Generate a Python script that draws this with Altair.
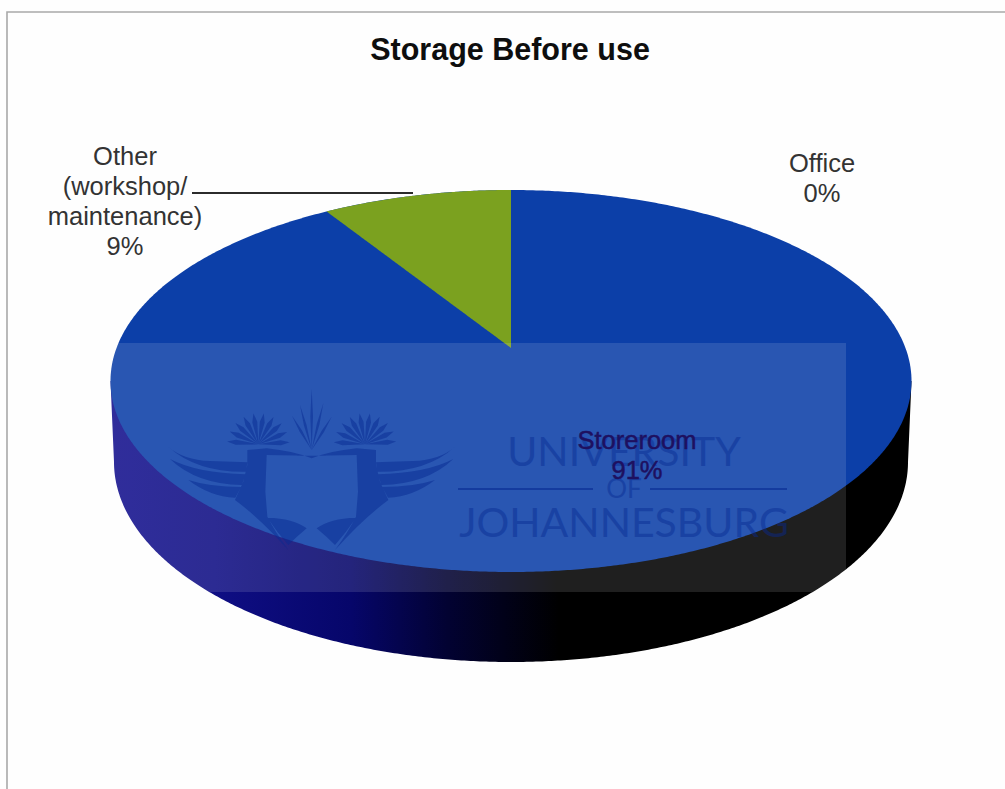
import math

import altair as alt

# Shares of each storage location, in percent
categories = ["Storeroom", "Other (workshop/ maintenance)", "Office"]
shares = [91, 9, 0]
title_text = "Storage Before use"
label_lines = {
    "Storeroom": ["Storeroom", "91%"],
    "Other": ["Other", "(workshop/", "maintenance)", "9%"],
    "Office": ["Office", "0%"],
}

W, H = 1005, 789

# Geometry of the tilted disc on the canvas
CX, CY, RX, RY = 511.0, 381.0, 400.5, 191.0
BOTTOM_CY, BOTTOM_RX, BOTTOM_RY = 462.0, 397.0, 200.0
HUB_Y = 348.0
TILT = (CY - HUB_Y) / RY


def project(theta):
    """Perspective image of a rim point, theta clockwise from the far side."""
    u, v = math.sin(theta), math.cos(theta)
    den = 1 + TILT * v
    return (
        CX + RX * u * math.sqrt(1 - TILT ** 2) / den,
        CY - RY * (v + TILT) / den,
    )


def disc_rows(n=400):
    rows = []
    for i in range(n + 1):
        t = math.pi * i / n
        s = math.sin(t)
        rows.append({"x": CX - RX * math.cos(t), "y": CY - RY * s, "y2": CY + RY * s})
    return rows


def side_rows(n=400):
    rows = [{"x": CX - RX, "y": CY, "y2": CY}]
    for i in range(n + 1):
        t = math.pi * i / n
        rows.append(
            {
                "x": CX - BOTTOM_RX * math.cos(t),
                "y": CY,
                "y2": BOTTOM_CY + BOTTOM_RY * math.sin(t),
            }
        )
    rows.append({"x": CX + RX, "y": CY, "y2": CY})
    return rows


def wedge_rows(share, n=120):
    # The wedge runs anticlockwise from twelve o'clock
    rim_x, rim_y = project(-2 * math.pi * share / 100)
    rows = []
    for i in range(n + 1):
        x = rim_x + (CX - rim_x) * i / n
        top = CY - RY * math.sqrt(1 - ((x - CX) / RX) ** 2)
        low = rim_y + (HUB_Y - rim_y) * i / n
        rows.append({"x": x, "y": top, "y2": low})
    return rows


x_scale = alt.Scale(domain=[0, W], range=[0, W], nice=False, zero=False)
y_scale = alt.Scale(domain=[0, H], range=[0, H], nice=False, zero=False)
X = alt.X("x:Q", scale=x_scale, axis=None)
Y = alt.Y("y:Q", scale=y_scale, axis=None)
Y2 = alt.Y2("y2:Q")


def table(rows):
    return alt.Chart(alt.Data(values=rows))


side_fill = alt.Gradient(
    gradient="linear",
    x1=0, x2=1, y1=0, y2=0,
    stops=[
        alt.GradientStop(offset=0.0, color="#14108e"),
        alt.GradientStop(offset=0.13, color="#0f0e84"),
        alt.GradientStop(offset=0.30, color="#06066a"),
        alt.GradientStop(offset=0.42, color="#020232"),
        alt.GradientStop(offset=0.56, color="#000000"),
        alt.GradientStop(offset=1.0, color="#000000"),
    ],
)

frame = table([{"x": 7, "x2": 1060, "y": 12, "y2": 1000}]).mark_rect(
    fill="#fefefe", stroke="#a9a9a9", strokeWidth=1.6, clip=True
).encode(x=X, x2="x2:Q", y=Y, y2=Y2)

side = table(side_rows()).mark_area(color=side_fill).encode(x=X, y=Y, y2=Y2)
disc = table(disc_rows()).mark_area(color="#0c3fa8").encode(x=X, y=Y, y2=Y2)
wedge = table(wedge_rows(shares[categories.index("Other (workshop/ maintenance)")])).mark_area(
    color="#7ba11f"
).encode(x=X, y=Y, y2=Y2)

# Stamp laid over the chart: a pale panel, a crest and the institution's name
panel = table([{"x": 100, "x2": 846, "y": 343, "y2": 592}]).mark_rect(
    fill="#ffffff", opacity=0.12
).encode(x=X, x2="x2:Q", y=Y, y2=Y2)


def blade(x0, y0, x1, y1, w, widest=0.55):
    dx, dy = x1 - x0, y1 - y0
    n = math.hypot(dx, dy)
    px, py = -dy / n * w / 2, dx / n * w / 2
    mx, my = x0 + dx * widest, y0 + dy * widest
    return (
        f"M{x0:.1f} {y0:.1f}L{mx + px:.1f} {my + py:.1f}L{x1:.1f} {y1:.1f}"
        f"L{mx - px:.1f} {my - py:.1f}Z"
    )


def shape_path(commands, fx):
    parts = []
    for op, *coords in commands:
        pts = [f"{fx(coords[i]):.1f} {coords[i + 1]:.1f}" for i in range(0, len(coords), 2)]
        parts.append(op + " ".join(pts))
    return "".join(parts) + "Z"


def bird(mirror=False):
    """Crested bird in a 900x510 drawing space; mirrored about the shield axis."""
    fx = (lambda v: 910 - v) if mirror else (lambda v: v)
    body = [
        ("M", 262, 195), ("L", 320, 190), ("Q", 400, 198, 455, 220), ("L", 455, 212),
        ("L", 320, 210), ("L", 316, 320), ("L", 322, 395), ("Q", 345, 440, 385, 495),
        ("Q", 300, 400, 225, 345), ("L", 250, 290), ("L", 262, 240),
    ]
    # Three sweeping wing feathers with slim gaps between them
    feathers = [
        [("M", 25, 185), ("Q", 70, 225, 150, 228), ("L", 262, 232), ("L", 258, 260),
         ("Q", 110, 262, 25, 185)],
        [("M", 30, 222), ("Q", 110, 264, 256, 268), ("L", 246, 300), ("Q", 110, 298, 30, 222)],
        [("M", 85, 285), ("Q", 150, 306, 243, 306), ("L", 226, 338), ("Q", 150, 335, 85, 285)],
    ]
    path = shape_path(body, fx) + "".join(shape_path(f, fx) for f in feathers)
    hx, hy = 295, 178
    for deg in (-85, -66, -47, -28, -9, 10, 29, 48, 67, 86):
        a = math.radians(deg)
        length = 94
        path += blade(fx(hx), hy, fx(hx + length * math.sin(a)), hy - length * math.cos(a), 15, 0.72)
    path += (
        f"M{fx(322):.1f} 398Q{fx(400):.1f} 400 {fx(440):.1f} 430"
        f"Q{fx(410):.1f} 455 {fx(385):.1f} 480Q{fx(350):.1f} 440 {fx(322):.1f} 398Z"
    )
    return path


rays = "".join(
    blade(455, 195, tx, ty, 8)
    for tx, ty in [(455, 12), (420, 60), (396, 92), (490, 55), (515, 95)]
)
crest_path = bird() + bird(True) + rays

# A custom symbol is drawn at half of sqrt(size) per path unit
crest = table([{"x": 160, "y": 385}]).mark_point(
    shape=crest_path, size=4 / 9, filled=True, fill="#072a92", opacity=0.5, strokeWidth=0
).encode(x=X, y=Y)

stamp_font = "Lato"
stamp_rows = [
    {"x": 624, "y": 454, "t": "UNIVERSITY", "s": 41},
    {"x": 624, "y": 490, "t": "OF", "s": 26},
    {"x": 624, "y": 525, "t": "JOHANNESBURG", "s": 41},
]
stamp_text = table(stamp_rows).mark_text(
    font=stamp_font, color="#072a92", opacity=0.45, baseline="middle", align="center"
).encode(x=X, y=Y, text="t:N", size=alt.Size("s:Q", scale=None))

stamp_rules = table([{"x": 458, "x2": 593, "y": 489}, {"x": 650, "x2": 787, "y": 489}]).mark_rule(
    color="#072a92", opacity=0.6, strokeWidth=1.8
).encode(x=X, x2="x2:Q", y=Y)

leader = table([{"x": 192, "x2": 413, "y": 193}]).mark_rule(
    color="#2b2b2b", strokeWidth=1.8
).encode(x=X, x2="x2:Q", y=Y)

# Data labels, one row per text line
line_gap = 30
anchors = {"Storeroom": (637, 441), "Other": (125, 157), "Office": (822, 164)}
label_rows = []
for key, lines in label_lines.items():
    ax, ay = anchors[key]
    for i, line in enumerate(lines):
        label_rows.append({"x": ax, "y": ay + i * line_gap, "t": line, "k": key})


def labels(key, color, **kw):
    rows = [r for r in label_rows if r["k"] == key]
    return table(rows).mark_text(
        font="Liberation Sans", fontSize=25.5, color=color, baseline="middle", align="center", **kw
    ).encode(x=X, y=Y, text="t:N")


title = table([{"x": 510, "y": 51, "t": title_text}]).mark_text(
    font="Liberation Sans", fontSize=30.5, fontWeight="bold", color="#0e0e0e",
    baseline="middle", align="center",
).encode(x=X, y=Y, text="t:N")

chart = alt.layer(
    frame, side, disc, wedge, panel,
    crest, stamp_text, stamp_rules,
    labels("Storeroom", "#1e1060", stroke="#1e1060", strokeWidth=0.5),
    leader, labels("Other", "#333333"), labels("Office", "#333333"), title,
).properties(
    width=W, height=H, padding=0, autosize=alt.AutoSizeParams(type="none"), background="#fefefe",
).configure_view(stroke=None)

chart.save("out.html", embed_options={"renderer": "svg", "actions": False})
